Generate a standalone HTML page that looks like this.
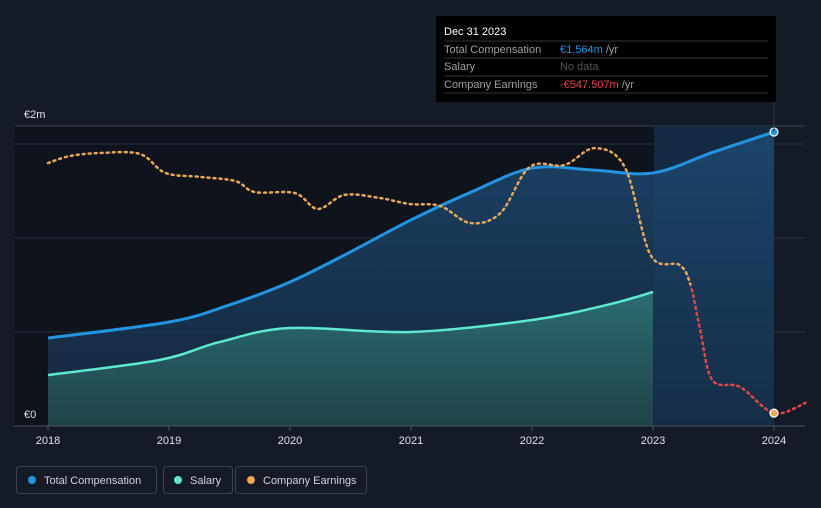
<!DOCTYPE html>
<html><head><meta charset="utf-8"><style>
body{margin:0;background:#151b26;font-family:"Liberation Sans",sans-serif;}
svg{display:block}
</style></head><body>
<svg id="c" width="821" height="508">
<defs>
<linearGradient id="tg" x1="0" y1="0" x2="0" y2="1"><stop offset="0" stop-color="#1d4a73" stop-opacity="0.85"/><stop offset="1" stop-color="#16304a" stop-opacity="0.7"/></linearGradient>
<linearGradient id="sg" x1="0" y1="0" x2="0" y2="1"><stop offset="0" stop-color="#2f7a7a" stop-opacity="0.8"/><stop offset="1" stop-color="#224a4a" stop-opacity="0.8"/></linearGradient>
</defs>
<rect x="0" y="0" width="821" height="508" fill="#151b26"/>
<rect x="14" y="126" width="640" height="300" fill="#0f131b"/>
<g id="grid"></g>
<g id="marks"></g>
<text x="24" y="118" fill="#dfe3e8" font-size="11">€2m</text>
<text x="24" y="418" fill="#dfe3e8" font-size="11">€0</text>
<g id="xt"></g>
<g>
<rect x="436" y="16" width="340" height="86" fill="#000"/>
<line x1="774" y1="102" x2="774" y2="132" stroke="#2a3a4a"/>
<text x="444" y="35" fill="#fff" font-size="11">Dec 31 2023</text>
<line x1="444" y1="41" x2="768" y2="41" stroke="#333"/>
<text x="444" y="53" fill="#9aa0a6" font-size="11">Total Compensation</text>
<text x="560" y="53" fill="#2394df" font-size="11">€1.564m <tspan fill="#9aa0a6">/yr</tspan></text>
<line x1="444" y1="58" x2="768" y2="58" stroke="#333"/>
<text x="444" y="70" fill="#9aa0a6" font-size="11">Salary</text>
<text x="560" y="70" fill="#555" font-size="11">No data</text>
<line x1="444" y1="76" x2="768" y2="76" stroke="#333"/>
<text x="444" y="88" fill="#9aa0a6" font-size="11">Company Earnings</text>
<text x="560" y="88" fill="#e84545" font-size="11">-€547.507m <tspan fill="#9aa0a6">/yr</tspan></text>
<line x1="444" y1="93" x2="768" y2="93" stroke="#333"/>
</g>
<g><rect x="16.5" y="466.5" width="140" height="27" rx="3" fill="none" stroke="#3a4350"/><circle cx="32" cy="480" r="4" fill="#2394df"/><text x="44" y="484" fill="#cfd3d8" font-size="11">Total Compensation</text></g>
<g><rect x="163.5" y="466.5" width="69" height="27" rx="3" fill="none" stroke="#3a4350"/><circle cx="178" cy="480" r="4" fill="#5ee8d0"/><text x="190" y="484" fill="#cfd3d8" font-size="11">Salary</text></g>
<g><rect x="235.5" y="466.5" width="131" height="27" rx="3" fill="none" stroke="#3a4350"/><circle cx="251" cy="480" r="4" fill="#e8a85a"/><text x="263" y="484" fill="#cfd3d8" font-size="11">Company Earnings</text></g>
</svg>
<script>
const years=[2018,2019,2020,2021,2022,2023,2024];
const totalT=[2018,2019,2019.5,2020,2020.5,2021,2021.5,2022,2022.5,2023,2023.5,2024];
const totalV=[0.468,0.553,0.644,0.766,0.926,1.096,1.245,1.372,1.362,1.346,1.457,1.564];
const salT=[2018,2018.92,2019.42,2020,2021,2022,2022.62,2023];
const salV=[0.271,0.351,0.447,0.521,0.5,0.564,0.644,0.713];
const earnT=[2018,2018.18,2018.43,2018.76,2018.97,2019.26,2019.55,2019.71,2020.04,2020.23,2020.45,2020.74,2020.99,2021.24,2021.49,2021.74,2021.98,2022.27,2022.52,2022.77,2022.98,2023.22,2023.31,2023.39,2023.49,2023.72,2024,2024.26];
const earnV=[521,551,564,560,479,462,444,397,393,325,385,372,346,338,265,308,504,513,585,500,128,85,0,-192,-406,-436,-547.5,-504];
const X=t=>48+(t-2018)*121;
const Y=v=>426-v*188;
const YE=e=>285-e*0.234;
const NS="http://www.w3.org/2000/svg";
function mk(tag,attrs,parent){const e=document.createElementNS(NS,tag);for(const k in attrs)e.setAttribute(k,attrs[k]);document.getElementById(parent).appendChild(e);return e;}
function spline(p){let d=`M${p[0][0]},${p[0][1]}`;for(let i=0;i<p.length-1;i++){const p0=p[i-1]||p[i],p1=p[i],p2=p[i+1],p3=p[i+2]||p2;const c1=[p1[0]+(p2[0]-p0[0])/6,p1[1]+(p2[1]-p0[1])/6],c2=[p2[0]-(p3[0]-p1[0])/6,p2[1]-(p3[1]-p1[1])/6];d+=`C${c1[0]},${c1[1]} ${c2[0]},${c2[1]} ${p2[0]},${p2[1]}`;}return d;}
// grid
[0.5,1,1.5].forEach(v=>{const l=mk('line',{x1:14,x2:805,y1:Y(v),y2:Y(v),stroke:'#2a313c'},'grid');

});
let tl=mk('line',{x1:14,x2:805,y1:126,y2:126,stroke:'#3a414c'},'grid');


// highlight region
let hr=mk('rect',{x:654,y:126,width:120,height:300,fill:'#132a42'},'grid');


const tp=totalT.map((t,i)=>[X(t),Y(totalV[i])]);
const sp=salT.map((t,i)=>[X(t),Y(salV[i])]);
const ta=mk('path',{d:spline(tp)+`L${X(2024)},426L${X(2018)},426Z`,fill:'url(#tg)'},'marks');


const sa=mk('path',{d:spline(sp)+`L${X(2023)},426L${X(2018)},426Z`,fill:'url(#sg)'},'marks');


const tln=mk('path',{d:spline(tp),fill:'none',stroke:'#2394df','stroke-width':3},'marks');


const sln=mk('path',{d:spline(sp),fill:'none',stroke:'#5ee8d0','stroke-width':2.5},'marks');


// earnings with split coloring
const ep=earnT.map((t,i)=>[X(t),YE(earnV[i])]);
const ed=spline(ep);
const pos=mk('path',{d:ed,fill:'none',stroke:'#e8a85a','stroke-width':2.5,'stroke-dasharray':'2 4','stroke-linecap':'round','clip-path':'url(#cpPos)'},'marks');


const neg=mk('path',{d:ed,fill:'none',stroke:'#e04848','stroke-width':2.5,'stroke-dasharray':'2 4','stroke-linecap':'round','clip-path':'url(#cpNeg)'},'marks');


const defs=document.querySelector('defs');
defs.innerHTML+=`<clipPath id="cpPos"><rect x="0" y="0" width="821" height="${YE(0)}"/></clipPath><clipPath id="cpNeg"><rect x="0" y="${YE(0)}" width="821" height="508"/></clipPath>`;
const d1=mk('circle',{cx:X(2024),cy:Y(totalV[totalV.length-1]),r:4,fill:'#2394df',stroke:'#fff','stroke-width':1.2},'marks');


const d2=mk('circle',{cx:X(2024),cy:YE(earnV[earnT.indexOf(2024)]),r:4,fill:'#e8a85a',stroke:'#fff','stroke-width':1.2},'marks');


let bl=mk('line',{x1:14,x2:805,y1:426,y2:426,stroke:'#4a525e'},'xt');


years.forEach(y=>{const t=mk('line',{x1:X(y),x2:X(y),y1:426,y2:431,stroke:'#4a525e'},'xt');


const tx=mk('text',{x:X(y),y:444,fill:'#dfe3e8','font-size':11,'text-anchor':'middle'},'xt');tx.textContent=y;

});
</script>
</body></html>
